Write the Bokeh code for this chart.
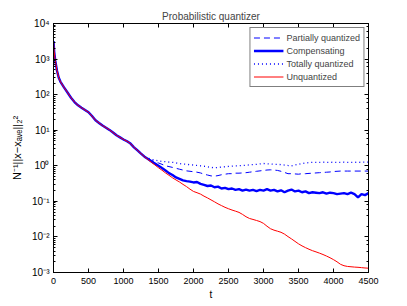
from bokeh.plotting import figure
from bokeh.models import (LogAxis, LinearAxis, Legend, LegendItem, FixedTicker,
                          CustomJSTickFormatter, Range1d)
from bokeh.embed import file_html
from bokeh.resources import INLINE

# ---------------- data ----------------
t_early = [0, 10, 25, 50, 75, 100, 150, 200, 250, 300, 350, 400, 450, 500, 550,
           600, 650, 700, 750, 800, 850, 900, 950, 1000, 1050, 1100, 1150, 1200,
           1250, 1300]
v_early = [3200, 1600, 900, 470, 300, 230, 160, 115, 82, 62, 50, 43, 37, 32, 25,
           19, 16, 13.5, 11.8, 10.2, 8.6, 7.2, 6.3, 5.5, 4.9, 4.2, 3.3, 2.7,
           2.2, 1.8]

t_tail = list(range(1350, 4501, 50))

partial_tail = [1.6, 1.42, 1.3, 1.2, 1.1, 1.0, 0.95, 0.9, 0.85, 0.8, 0.76, 0.72,
                0.7, 0.68, 0.66, 0.63, 0.58, 0.55, 0.52, 0.51, 0.53, 0.56, 0.58,
                0.6, 0.6, 0.62, 0.62, 0.63, 0.64, 0.66, 0.68, 0.7, 0.72, 0.74,
                0.76, 0.77, 0.76, 0.74, 0.7, 0.65, 0.6, 0.6, 0.59, 0.58, 0.6,
                0.6, 0.61, 0.62, 0.63, 0.64, 0.65, 0.66, 0.67, 0.69, 0.7, 0.71,
                0.71, 0.71, 0.71, 0.71, 0.71, 0.71, 0.71, 0.71]

comp_tail = [1.55, 1.32, 1.15, 1.0, 0.86, 0.74, 0.62, 0.55, 0.47, 0.43, 0.39,
             0.37, 0.36, 0.34, 0.35, 0.31, 0.29, 0.27, 0.28, 0.25, 0.26, 0.23,
             0.24, 0.22, 0.23, 0.21, 0.22, 0.2, 0.215, 0.2, 0.21, 0.195, 0.21,
             0.2, 0.22, 0.2, 0.21, 0.19, 0.205, 0.18, 0.2, 0.215, 0.19, 0.2,
             0.18, 0.19, 0.17, 0.18, 0.175, 0.17, 0.18, 0.165, 0.175, 0.17,
             0.16, 0.165, 0.17, 0.16, 0.175, 0.16, 0.13, 0.16, 0.15, 0.17]

total_tail = [1.65, 1.52, 1.45, 1.38, 1.33, 1.3, 1.27, 1.25, 1.2, 1.15, 1.12,
              1.1, 1.07, 1.05, 1.02, 1.0, 0.97, 0.94, 0.9, 0.88, 0.9, 0.92,
              0.94, 0.96, 0.98, 1.0, 1.0, 1.02, 1.04, 1.06, 1.08, 1.1, 1.13,
              1.16, 1.14, 1.12, 1.1, 1.1, 1.08, 1.05, 1.02, 1.0, 1.05, 1.1,
              1.15, 1.2, 1.23, 1.25, 1.25, 1.25, 1.26, 1.25, 1.25, 1.26, 1.25,
              1.25, 1.26, 1.25, 1.25, 1.26, 1.25, 1.26, 1.26, 1.27]

unq_tail = [1.5, 1.25, 1.05, 0.88, 0.75, 0.63, 0.54, 0.46, 0.40, 0.35, 0.30,
            0.26, 0.22, 0.19, 0.175, 0.16, 0.14, 0.125, 0.11, 0.097, 0.085,
            0.076, 0.068, 0.062, 0.057, 0.053, 0.049, 0.043, 0.037, 0.033,
            0.031, 0.029, 0.027, 0.024, 0.02, 0.017, 0.0155, 0.0145, 0.0135,
            0.012, 0.0102, 0.0088, 0.0075, 0.0064, 0.0056, 0.005, 0.0045,
            0.0041, 0.0038, 0.0035, 0.0032, 0.0029, 0.0026, 0.0023, 0.002,
            0.0017, 0.00155, 0.00148, 0.00145, 0.00142, 0.0014, 0.00137,
            0.00134, 0.00132]

x_ticks = [0, 500, 1000, 1500, 2000, 2500, 3000, 3500, 4000, 4500]

t_all = t_early + t_tail
partial = v_early + partial_tail
comp = v_early + comp_tail
total = v_early + total_tail
unq = v_early + unq_tail

FONT = "Liberation Sans"
BLUE = "#0000ff"
RED = "#ff0000"

p = figure(frame_width=315, frame_height=249, y_axis_type="log",
           x_range=Range1d(0, 4500), y_range=Range1d(1e-3, 1e4),
           output_backend="svg", toolbar_location=None,
           min_border_left=53, min_border_right=35, min_border_top=23,
           min_border_bottom=30, title="Probabilistic quantizer")
p.background_fill_color = "white"
p.border_fill_color = "white"
p.outline_line_color = "black"
p.xgrid.visible = False
p.ygrid.visible = False

p.title.align = "center"
p.title.text_font = FONT
p.title.text_font_size = "10px"
p.title.text_font_style = "normal"
p.title.offset = 0
p.title.standoff = 4

sup = CustomJSTickFormatter(code="""
const m = {'-':'\u207b','0':'\u2070','1':'\u00b9','2':'\u00b2','3':'\u00b3','4':'\u2074',
           '5':'\u2075','6':'\u2076','7':'\u2077','8':'\u2078','9':'\u2079'};
const e = String(Math.round(Math.log10(tick)));
let s = '10';
for (const c of e) { s += m[c]; }
return s;
""")
blank = CustomJSTickFormatter(code="return '';")

def style_axis(ax):
    ax.axis_line_color = "black"
    ax.major_tick_in = 4
    ax.major_tick_out = 0
    ax.minor_tick_in = 2
    ax.minor_tick_out = 0
    ax.major_tick_line_color = "black"
    ax.minor_tick_line_color = "black"
    ax.major_label_text_font = FONT
    ax.major_label_text_font_size = "9px"
    ax.major_label_text_color = "black"
    ax.axis_label_text_font = FONT
    ax.axis_label_text_font_size = "10px"
    ax.axis_label_text_font_style = "normal"
    ax.axis_label_text_color = "black"

xa = p.xaxis[0]
xa.ticker = FixedTicker(ticks=x_ticks)
xa.axis_label = "t"
xa.axis_label_standoff = 2
xa.major_label_standoff = 5
style_axis(xa)

ya = p.yaxis[0]
ya.ticker.desired_num_ticks = 8
ya.formatter = sup
ya.axis_label = "N\u207b\u00b9||x\u2212x\u2090\u1d65\u2091||\u2082\u00b2"
ya.axis_label_standoff = 6
ya.major_label_standoff = 4
style_axis(ya)
ya.major_label_text_font_size = "10px"
ya.axis_label_text_font_size = "11px"

top = LinearAxis(ticker=FixedTicker(ticks=x_ticks), formatter=blank)
style_axis(top)
top.major_label_standoff = 0
p.add_layout(top, "above")
right = LogAxis(formatter=blank)
style_axis(right)
right.major_label_standoff = 0
p.add_layout(right, "right")

r_part = p.line(t_all, partial, line_color=BLUE, line_width=1, line_dash="6 4")
r_comp = p.line(t_all, comp, line_color=BLUE, line_width=2.4)
r_tot = p.line(t_all, total, line_color=BLUE, line_width=1.3, line_dash="1 3")
r_unq = p.line(t_all, unq, line_color=RED, line_width=1)

legend = Legend(items=[
    LegendItem(label="Partially quantized", renderers=[r_part]),
    LegendItem(label="Compensating", renderers=[r_comp]),
    LegendItem(label="Totally quantized", renderers=[r_tot]),
    LegendItem(label="Unquantized", renderers=[r_unq]),
], location="top_right")
legend.margin = 4
legend.padding = 3
legend.spacing = 0
legend.glyph_width = 30
legend.glyph_height = 13
legend.label_height = 13
legend.label_standoff = 3
legend.label_text_font = FONT
legend.label_text_font_size = "9px"
legend.border_line_color = "black"
legend.border_line_width = 1
legend.background_fill_alpha = 1
p.add_layout(legend, "center")

open("out.html", "w").write(file_html(p, INLINE))
